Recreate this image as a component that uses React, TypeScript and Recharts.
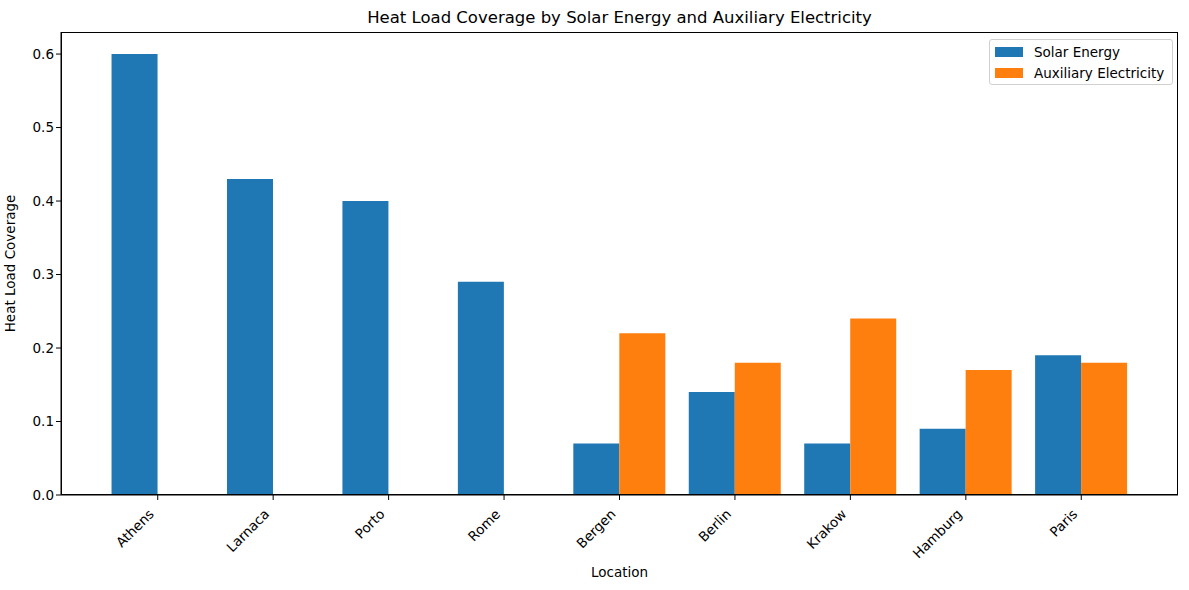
import React from "react";
import { BarChart, Bar, XAxis, YAxis } from "recharts";

const locations = ["Athens", "Larnaca", "Porto", "Rome", "Bergen", "Berlin", "Krakow", "Hamburg", "Paris"];
const solarEnergy = [0.6, 0.43, 0.4, 0.29, 0.07, 0.14, 0.07, 0.09, 0.19];
const auxiliaryElectricity = [0, 0, 0, 0, 0.22, 0.18, 0.24, 0.17, 0.18];
const yTicks = [0, 0.1, 0.2, 0.3, 0.4, 0.5, 0.6];

const data = locations.map((name, i) => ({
  name,
  solar: solarEnergy[i],
  aux: auxiliaryElectricity[i],
}));

const FONT = "DejaVu Sans, sans-serif";

function RotatedTick(props: any) {
  const { x, y, payload } = props;
  return (
    <g transform={`translate(${x - 3},${y + 13})`}>
      <text transform="rotate(-45)" textAnchor="end" fontSize={13.5} fontFamily={FONT} fill="#000">
        {payload.value}
      </text>
    </g>
  );
}

function LegendBox() {
  const items = [
    { label: "Solar Energy", color: "#1f77b4" },
    { label: "Auxiliary Electricity", color: "#ff7f0e" },
  ];
  return (
    <div
      style={{
        position: "absolute",
        left: 989,
        top: 39,
        width: 184,
        boxSizing: "border-box",
        border: "1px solid #d0d0d0",
        borderRadius: 3,
        background: "rgba(255,255,255,0.8)",
        padding: "1px 0 1px 5px",
        fontFamily: FONT,
        fontSize: 13.5,
        color: "#000",
      }}
    >
      {items.map((it) => (
        <div key={it.label} style={{ display: "flex", alignItems: "center", height: 21 }}>
          <span style={{ display: "inline-block", width: 28, height: 10, background: it.color, marginRight: 11 }} />
          <span>{it.label}</span>
        </div>
      ))}
    </div>
  );
}

export default function App() {
  return (
    <div style={{ position: "absolute", left: 0, top: 0, width: 1189, height: 590, background: "#fff" }}>
      <div
        style={{
          position: "absolute",
          left: 61,
          width: 1117,
          top: 8,
          textAlign: "center",
          fontFamily: FONT,
          fontSize: 16.5,
          color: "#000",
        }}
      >
        Heat Load Coverage by Solar Energy and Auxiliary Electricity
      </div>
      <BarChart
        width={1189}
        height={590}
        data={data}
        margin={{ top: 32, right: 11, bottom: 0, left: 0 }}
        barCategoryGap="10%"
        barGap={0}
      >
        <XAxis
          dataKey="name"
          height={95}
          padding={{ left: 39, right: 39 }}
          stroke="#000"
          tickLine={{ stroke: "#000" }}
          tickSize={5}
          tick={<RotatedTick />}
          interval={0}
          label={{ value: "Location", position: "insideBottom", offset: 13, fontSize: 13.5, fontFamily: FONT, fill: "#000" }}
        />
        <YAxis
          width={61}
          domain={[0, 0.63]}
          ticks={yTicks}
          allowDataOverflow
          stroke="#000"
          tickSize={5}
          tickFormatter={(v: number) => v.toFixed(1)}
          tick={{ fontSize: 13.5, fontFamily: FONT, fill: "#000" }}
          label={{
            value: "Heat Load Coverage",
            angle: -90,
            position: "insideLeft",
            offset: 10,
            style: { textAnchor: "middle" },
            fontSize: 13.5,
            fontFamily: FONT,
            fill: "#000",
          }}
        />
        <Bar dataKey="solar" name="Solar Energy" fill="#1f77b4" isAnimationActive={false} />
        <Bar dataKey="aux" name="Auxiliary Electricity" fill="#ff7f0e" isAnimationActive={false} />
      </BarChart>
      <div
        style={{
          position: "absolute",
          left: 61,
          top: 32,
          width: 1117,
          height: 463,
          boxSizing: "border-box",
          border: "1px solid #000",
          pointerEvents: "none",
        }}
      />
      <LegendBox />
    </div>
  );
}
